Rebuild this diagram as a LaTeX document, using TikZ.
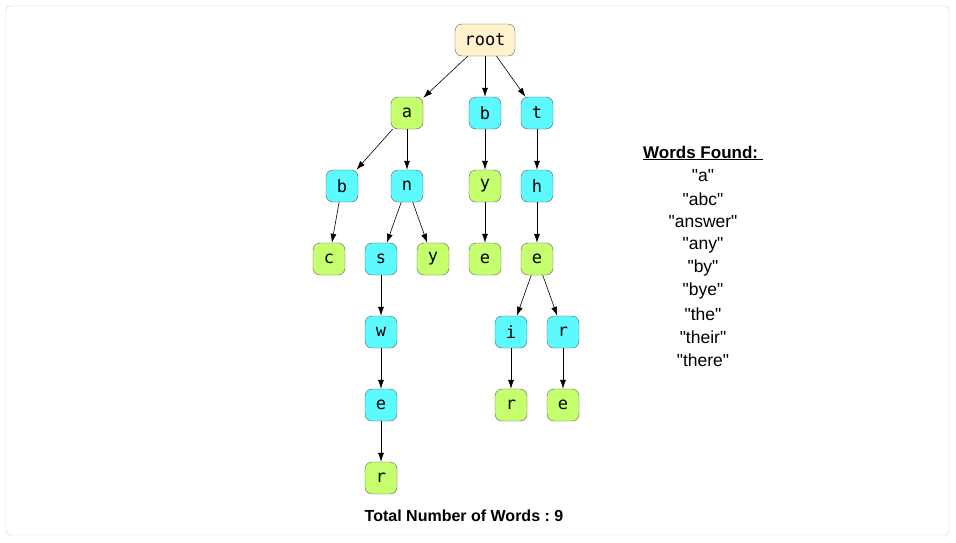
\documentclass[tikz,border=0pt]{standalone}
\usepackage{fontspec}
\usetikzlibrary{arrows.meta}
\setmainfont{Liberation Sans}
\setmonofont{DejaVu Sans Mono}
\definecolor{endfill}{HTML}{C6FF6E}
\definecolor{midfill}{HTML}{5CF9FF}
\definecolor{rootfill}{HTML}{FFF2CC}
\frenchspacing

\begin{document}
\begin{tikzpicture}[x=1pt,y=-1pt,
    letter/.style={draw=black!65,rounded corners=7pt,minimum width=32pt,minimum height=32pt,inner sep=0pt,font=\fontsize{17}{17}\selectfont\ttfamily},
    endnode/.style={letter,fill=endfill},
    midnode/.style={letter,fill=midfill},
    link/.style={-{Latex[length=9pt,width=6pt]},black,line width=0.6pt}]
  \useasboundingbox (0,0) rectangle (956,542);
  \draw[black!20,rounded corners=4pt] (6,6) rectangle (949,535);
  % trie
  \node[letter,fill=rootfill,minimum width=60pt] (root) at (485,40) {root};
  \node[endnode] (a)  at (407,113) {a};
  \node[midnode] (b)  at (485,113) {b};
  \node[midnode] (t)  at (537,113) {t};
  \node[midnode] (ab) at (342,186) {b};
  \node[midnode] (an) at (407,186) {n};
  \node[endnode] (by) at (485,186) {y};
  \node[midnode] (th) at (537,186) {h};
  \node[endnode] (abc) at (329,259) {c};
  \node[midnode] (ans) at (381,259) {s};
  \node[endnode] (any) at (433,259) {y};
  \node[endnode] (bye) at (485,259) {e};
  \node[endnode] (the) at (537,259) {e};
  \node[midnode] (answ) at (381,332) {w};
  \node[midnode] (thei) at (511,332) {i};
  \node[midnode] (ther) at (563,332) {r};
  \node[midnode] (answe) at (381,405) {e};
  \node[endnode] (their) at (511,405) {r};
  \node[endnode] (there) at (563,405) {e};
  \node[endnode] (answer) at (381,478) {r};
  \draw[link] (root) -- (a);
  \draw[link] (root) -- (b);
  \draw[link] (root) -- (t);
  \draw[link] (a) -- (ab);
  \draw[link] (a) -- (an);
  \draw[link] (b) -- (by);
  \draw[link] (t) -- (th);
  \draw[link] (ab) -- (abc);
  \draw[link] (an) -- (ans);
  \draw[link] (an) -- (any);
  \draw[link] (by) -- (bye);
  \draw[link] (th) -- (the);
  \draw[link] (ans) -- (answ);
  \draw[link] (the) -- (thei);
  \draw[link] (the) -- (ther);
  \draw[link] (answ) -- (answe);
  \draw[link] (thei) -- (their);
  \draw[link] (ther) -- (there);
  \draw[link] (answe) -- (answer);
  % words found
  \node[font=\fontsize{17}{17}\selectfont\bfseries] (found) at (703,153) {\underline{Words Found:\ }};
  \foreach \w [count=\k] in {a,abc,answer,any,by,bye,the,their,there}
    \node[font=\fontsize{17.5}{17.5}\selectfont] (w\k) at (703,153+23*\k) {\textquotedbl\w\textquotedbl};
  \node[font=\fontsize{16}{16}\selectfont\bfseries] (total) at (464,516) {Total Number of Words : 9};
\end{tikzpicture}
\end{document}
